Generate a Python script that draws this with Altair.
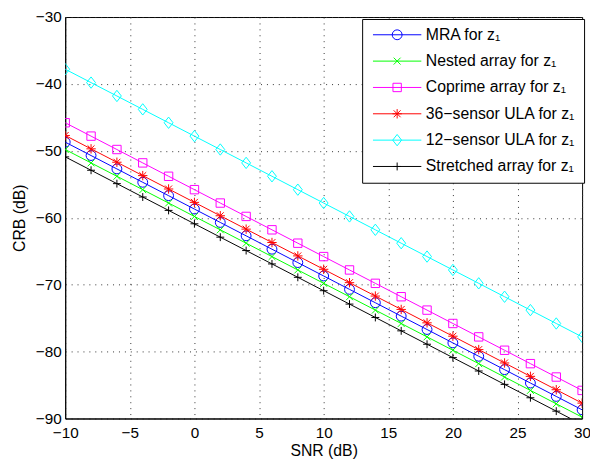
import altair as alt
import pandas as pd

snr = [-10, -8, -6, -4, -2, 0, 2, 4, 6, 8, 10, 12, 14, 16, 18, 20, 22, 24, 26, 28, 30]

mra = [-48.7, -50.7, -52.7, -54.7, -56.7, -58.7, -60.7, -62.7, -64.7, -66.7, -68.7,
       -70.7, -72.7, -74.7, -76.7, -78.7, -80.7, -82.7, -84.7, -86.7, -88.7]
nested = [-49.8, -51.8, -53.8, -55.8, -57.8, -59.8, -61.8, -63.8, -65.8, -67.8, -69.8,
          -71.8, -73.8, -75.8, -77.8, -79.8, -81.8, -83.8, -85.8, -87.8, -89.8]
coprime = [-45.8, -47.8, -49.8, -51.8, -53.8, -55.8, -57.8, -59.8, -61.8, -63.8, -65.8,
           -67.8, -69.8, -71.8, -73.8, -75.8, -77.8, -79.8, -81.8, -83.8, -85.8]
ula36 = [-47.7, -49.7, -51.7, -53.7, -55.7, -57.7, -59.7, -61.7, -63.7, -65.7, -67.7,
         -69.7, -71.7, -73.7, -75.7, -77.7, -79.7, -81.7, -83.7, -85.7, -87.7]
ula12 = [-37.8, -39.8, -41.8, -43.8, -45.8, -47.8, -49.8, -51.8, -53.8, -55.8, -57.8,
         -59.8, -61.8, -63.8, -65.8, -67.8, -69.8, -71.8, -73.8, -75.8, -77.8]
stretched = [-50.9, -52.9, -54.9, -56.9, -58.9, -60.9, -62.9, -64.9, -66.9, -68.9, -70.9,
             -72.9, -74.9, -76.9, -78.9, -80.9, -82.9, -84.9, -86.9, -88.9, -90.9]

series_names = ["MRA for z₁", "Nested array for z₁", "Coprime array for z₁",
                "36−sensor ULA for z₁", "12−sensor ULA for z₁", "Stretched array for z₁"]
series_values = [mra, nested, coprime, ula36, ula12, stretched]
colors = ["#0000ff", "#00ff00", "#ff00ff", "#ff0000", "#00ffff", "#000000"]

x_ticks = [-10, -5, 0, 5, 10, 15, 20, 25, 30]
y_ticks = [-90, -80, -70, -60, -50, -40, -30]

marker_paths = [
    "M-1,0A1,1 0 1,1 1,0A1,1 0 1,1 -1,0Z",
    "M-0.7,-0.7L0.7,0.7M-0.7,0.7L0.7,-0.7",
    "M-0.85,-0.85H0.85V0.85H-0.85Z",
    "M-0.95,0H0.95M0,-0.95V0.95M-0.7,-0.7L0.7,0.7M-0.7,0.7L0.7,-0.7",
    "M0,-1.15L0.9,0L0,1.15L-0.9,0Z",
    "M-0.8,0H0.8M0,-0.8V0.8",
]
legend_paths = ["M-4.9,0H4.9" + p for p in marker_paths]

rows = []
for name, vals in zip(series_names, series_values):
    for s, v in zip(snr, vals):
        rows.append({"snr": s, "crb": v, "series": name})
df = pd.DataFrame(rows)

FONT = "Liberation Sans"

x_enc = alt.X("snr:Q", scale=alt.Scale(domain=[-10, 30], nice=False, zero=False),
              axis=alt.Axis(values=x_ticks, title="SNR (dB)", labelPadding=7, titlePadding=2))
y_enc = alt.Y("crb:Q", scale=alt.Scale(domain=[-90, -30], nice=False, zero=False),
              axis=alt.Axis(values=y_ticks, title="CRB (dB)", labelPadding=4, titlePadding=8))

color_scale = alt.Scale(domain=series_names, range=colors)

base = alt.Chart(df)

lines = base.mark_line(clip=True, strokeWidth=1).encode(
    x=x_enc, y=y_enc,
    color=alt.Color("series:N", scale=color_scale, legend=None),
)

points = base.mark_point(clip=True, filled=False, size=100, strokeWidth=1, opacity=1).encode(
    x=x_enc, y=y_enc,
    color=alt.Color("series:N", scale=color_scale, legend=None),
    shape=alt.Shape("series:N", scale=alt.Scale(domain=series_names, range=marker_paths), legend=None),
)

def make_legend():
    return alt.Legend(
        title=None, orient="none", legendX=301, legendY=2,
        fillColor="white", strokeColor="black", padding=8, cornerRadius=0,
        labelFont=FONT, labelFontSize=16, labelColor="black", labelLimit=400,
        symbolSize=100, symbolStrokeWidth=1, rowPadding=10.7,
        labelOffset=21, symbolOffset=19.5)

legend_layer = base.mark_point(filled=False, size=100, strokeWidth=1, opacity=1).encode(
    x=x_enc, y=y_enc,
    color=alt.Color("series:N", scale=color_scale, legend=make_legend()),
    shape=alt.Shape("series:N", scale=alt.Scale(domain=series_names, range=legend_paths),
                    legend=make_legend()),
).transform_filter("datum.snr > 1000")

chart = alt.layer(lines, points, legend_layer).resolve_scale(
    color="independent", shape="independent"
).properties(
    width=524, height=407,
    autosize=alt.AutoSizeParams(type="none"),
    padding={"left": 58, "top": 6, "right": 8, "bottom": 45},
    background="white",
).configure_view(
    stroke="black", strokeWidth=1
).configure_axis(
    labelFont=FONT, titleFont=FONT, labelFontSize=15.5, titleFontSize=16,
    titleFontWeight="normal", labelColor="black", titleColor="black",
    domainColor="black", ticks=False, tickSize=0,
    grid=True, gridColor="#333333", gridDash=[1, 5], gridWidth=1, gridOpacity=1,
    labelFlush=False,
)

chart.save("out.html", embed_options={"renderer": "svg", "actions": False})
